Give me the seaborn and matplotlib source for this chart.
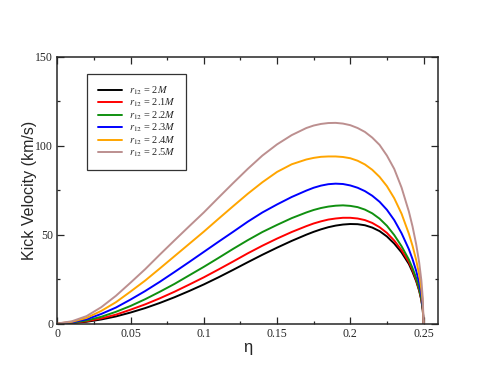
import numpy as np
import pandas as pd
import matplotlib
matplotlib.use("Agg")
import matplotlib.pyplot as plt
import seaborn as sns
from matplotlib.ticker import MultipleLocator

# --- data: kick velocity (km/s) vs eta, one list per r12 ---
eta = [0.0, 0.01, 0.02, 0.03, 0.04, 0.05, 0.06, 0.07, 0.08, 0.09,
       0.10, 0.11, 0.12, 0.13, 0.14, 0.15, 0.16, 0.17, 0.175, 0.18,
       0.185, 0.19, 0.195, 0.20, 0.205, 0.21, 0.215, 0.22, 0.225, 0.23,
       0.235, 0.24, 0.2425, 0.245, 0.247, 0.2485, 0.2495, 0.25]

v_2p0 = [0, 0.3, 1.0, 2.3, 4.0, 6.2, 8.7, 11.6, 14.8, 18.3,
         22.0, 26.0, 30.2, 34.5, 38.7, 42.7, 46.5, 50.0, 51.6, 53.0,
         54.2, 55.1, 55.7, 56.0, 55.9, 55.3, 54.0, 52.0, 49.0, 45.0,
         40.0, 33.5, 29.0, 23.8, 18.5, 13.2, 7.6, 0]
v_2p1 = [0, 0.4, 1.3, 2.9, 5.0, 7.8, 10.8, 14.2, 17.9, 21.9,
         26.0, 30.4, 34.9, 39.5, 43.8, 47.8, 51.5, 54.8, 56.3, 57.5,
         58.5, 59.1, 59.5, 59.5, 59.1, 58.2, 56.6, 54.2, 51.0, 46.7,
         41.3, 34.6, 30.0, 24.5, 19.0, 13.5, 7.8, 0]
v_2p2 = [0, 0.5, 1.7, 3.8, 6.6, 9.9, 13.7, 17.9, 22.3, 27.1,
         31.9, 36.9, 42.0, 46.9, 51.5, 55.5, 59.3, 62.5, 63.9, 65.0,
         65.8, 66.3, 66.5, 66.2, 65.5, 64.1, 62.0, 59.0, 55.0, 49.8,
         43.5, 36.0, 31.2, 25.5, 19.7, 13.9, 8.1, 0]
v_2p3 = [0, 0.7, 2.4, 5.4, 9.0, 13.5, 18.3, 23.5, 29.0, 34.6,
         40.3, 46.0, 51.6, 57.3, 62.5, 67.0, 71.2, 74.8, 76.4, 77.6,
         78.4, 78.7, 78.5, 77.7, 76.4, 74.5, 71.9, 68.5, 64.0, 58.2,
         50.8, 41.8, 36.2, 29.6, 22.9, 16.2, 9.4, 0]
v_2p4 = [0, 1.0, 3.2, 7.1, 12.0, 18.0, 24.2, 31.0, 37.9, 44.8,
         51.7, 58.9, 66.0, 73.0, 79.5, 85.3, 89.6, 92.3, 93.2, 93.8,
         94.0, 94.0, 93.7, 93.0, 91.6, 89.5, 86.5, 82.5, 77.3, 70.5,
         61.8, 50.5, 43.7, 35.7, 27.7, 19.5, 11.3, 0]
v_2p5 = [0, 1.3, 4.2, 9.2, 15.6, 23.0, 30.6, 38.8, 46.8, 54.7,
         62.5, 70.8, 79.0, 87.0, 94.5, 100.8, 106.0, 110.0, 111.4, 112.3,
         112.8, 112.9, 112.5, 111.6, 110.0, 107.8, 104.6, 100.5, 94.5, 87.0,
         76.5, 63.0, 54.6, 44.5, 34.5, 24.4, 14.1, 0]

labels = [r"$r_{12}$ = 2$M$", r"$r_{12}$ = 2.1$M$", r"$r_{12}$ = 2.2$M$",
          r"$r_{12}$ = 2.3$M$", r"$r_{12}$ = 2.4$M$", r"$r_{12}$ = 2.5$M$"]
colors = ["black", "red", "#109010", "blue", "orange", "#bc8f8f"]

series = [v_2p0, v_2p1, v_2p2, v_2p3, v_2p4, v_2p5]
df = pd.concat([pd.DataFrame({"eta": eta, "v": s, "r12": lab})
                for s, lab in zip(series, labels)], ignore_index=True)

# --- style ---
sns.set_style("ticks")
plt.rcParams["mathtext.fontset"] = "stix"
plt.rcParams["font.family"] = ["Liberation Serif", "DejaVu Serif"]

fig = plt.figure(figsize=(4.94, 3.82), dpi=100)
ax = fig.add_axes([0.116, 0.153, 0.771, 0.698])

sns.lineplot(data=df, x="eta", y="v", hue="r12", palette=colors,
             linewidth=1.4, ax=ax, sort=False)

ax.set_xlim(0, 0.26)
ax.set_ylim(0, 150)
ax.xaxis.set_major_locator(MultipleLocator(0.05))
ax.xaxis.set_minor_locator(MultipleLocator(0.025))
ax.yaxis.set_major_locator(MultipleLocator(50))
ax.yaxis.set_minor_locator(MultipleLocator(25))
ax.set_xticks([0, 0.05, 0.1, 0.15, 0.2, 0.25])
ax.set_xticklabels(["0", "0.05", "0.1", "0.15", "0.2", "0.25"])
ax.tick_params(which="both", direction="in", top=True, right=True,
               labelsize=8.5, width=0.9, pad=3)
ax.tick_params(which="major", length=5)
ax.tick_params(which="minor", length=2.5)
for sp in ax.spines.values():
    sp.set_linewidth(1.1)

ax.set_xlabel("η", family="Liberation Sans", fontsize=12, labelpad=0)
ax.set_ylabel("Kick Velocity (km/s)", family="Liberation Sans", fontsize=11.5, labelpad=-1)

leg = ax.legend(loc="upper left", bbox_to_anchor=(0.079, 0.936), borderaxespad=0,
                fontsize=7.5, frameon=True, fancybox=False, edgecolor="black",
                handlelength=2.3, handletextpad=0.7, borderpad=1.0,
                labelspacing=0.0)
leg.get_frame().set_linewidth(0.9)

fig.savefig("out.png", dpi=100)
